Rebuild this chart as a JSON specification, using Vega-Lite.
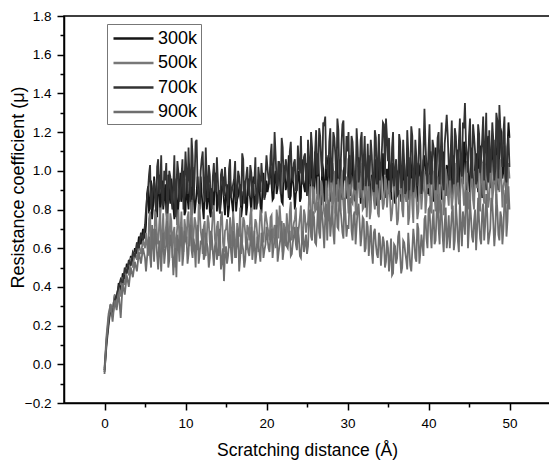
{
"$schema": "https://vega.github.io/schema/vega-lite/v6.json",
"width": 486,
"height": 387,
"autosize": {"type": "none"},
"padding": {"left": 64, "top": 16, "right": 0, "bottom": 60},
"background": "white",
"config": {
  "font": "Liberation Sans",
  "view": {"stroke": "#000", "strokeWidth": 1.5},
  "axis": {"grid": false, "domainColor": "#000", "domainWidth": 1.5, "tickColor": "#000", "tickWidth": 1.5, "labelColor": "#000", "titleColor": "#000", "titleFontWeight": "normal", "labelFontSize": 13.5, "labelFlush": false, "labelOverlap": false},
  "legend": {"strokeColor": "#777", "strokeWidth": 1}
},
"data": {"values": [
{"x":0,"300k":-0.03,"500k":-0.02,"700k":-0.04,"900k":-0.05},
{"x":0.25,"300k":0.12,"500k":0.15,"700k":0.10,"900k":0.13},
{"x":0.5,"300k":0.22,"500k":0.26,"700k":0.20,"900k":0.24},
{"x":0.75,"300k":0.30,"500k":0.31,"700k":0.29,"900k":0.31},
{"x":1,"300k":0.28,"500k":0.27,"700k":0.25,"900k":0.22},
{"x":1.25,"300k":0.35,"500k":0.36,"700k":0.33,"900k":0.33},
{"x":1.5,"300k":0.33,"500k":0.30,"700k":0.36,"900k":0.28},
{"x":1.75,"300k":0.42,"500k":0.40,"700k":0.40,"900k":0.37},
{"x":2,"300k":0.38,"500k":0.35,"700k":0.44,"900k":0.24},
{"x":2.25,"300k":0.47,"500k":0.45,"700k":0.42,"900k":0.42},
{"x":2.5,"300k":0.44,"500k":0.41,"700k":0.50,"900k":0.36},
{"x":2.75,"300k":0.52,"500k":0.50,"700k":0.47,"900k":0.46},
{"x":3,"300k":0.48,"500k":0.46,"700k":0.54,"900k":0.40},
{"x":3.25,"300k":0.56,"500k":0.55,"700k":0.51,"900k":0.50},
{"x":3.5,"300k":0.53,"500k":0.50,"700k":0.58,"900k":0.45},
{"x":3.75,"300k":0.60,"500k":0.58,"700k":0.56,"900k":0.53},
{"x":4,"300k":0.57,"500k":0.54,"700k":0.63,"900k":0.48},
{"x":4.25,"300k":0.66,"500k":0.62,"700k":0.60,"900k":0.58},
{"x":4.5,"300k":0.62,"500k":0.57,"700k":0.68,"900k":0.52},
{"x":4.75,"300k":0.70,"500k":0.64,"700k":0.64,"900k":0.60},
{"x":5,"300k":0.65,"500k":0.60,"700k":0.72,"900k":0.55},
{"x":5.25,"300k":0.88,"500k":0.62,"700k":0.86,"900k":0.55},
{"x":5.5,"300k":0.78,"500k":0.75,"700k":0.98,"900k":0.66},
{"x":5.75,"300k":0.95,"500k":0.58,"700k":0.80,"900k":0.50},
{"x":6,"300k":0.82,"500k":0.70,"700k":0.92,"900k":0.62},
{"x":6.25,"300k":0.90,"500k":0.80,"700k":0.84,"900k":0.70},
{"x":6.5,"300k":0.76,"500k":0.64,"700k":1.02,"900k":0.56},
{"x":6.75,"300k":0.98,"500k":0.72,"700k":0.88,"900k":0.64},
{"x":7,"300k":0.85,"500k":0.57,"700k":1.08,"900k":0.48},
{"x":7.25,"300k":0.80,"500k":0.78,"700k":0.82,"900k":0.68},
{"x":7.5,"300k":0.93,"500k":0.66,"700k":0.95,"900k":0.58},
{"x":7.75,"300k":0.74,"500k":0.83,"700k":0.78,"900k":0.74},
{"x":8,"300k":0.88,"500k":0.60,"700k":1.00,"900k":0.54},
{"x":8.25,"300k":0.96,"500k":0.74,"700k":0.86,"900k":0.63},
{"x":8.5,"300k":0.81,"500k":0.68,"700k":0.93,"900k":0.46},
{"x":8.75,"300k":0.87,"500k":0.50,"700k":0.76,"900k":0.60},
{"x":9,"300k":0.72,"500k":0.72,"700k":1.05,"900k":0.67},
{"x":9.25,"300k":0.92,"500k":0.63,"700k":0.84,"900k":0.53},
{"x":9.5,"300k":0.84,"500k":0.79,"700k":0.97,"900k":0.71},
{"x":9.75,"300k":1.00,"500k":0.58,"700k":0.80,"900k":0.57},
{"x":10,"300k":0.79,"500k":0.70,"700k":1.10,"900k":0.63},
{"x":10.25,"300k":0.86,"500k":0.76,"700k":0.88,"900k":0.52},
{"x":10.5,"300k":0.93,"500k":0.61,"700k":0.96,"900k":0.69},
{"x":10.75,"300k":0.77,"500k":0.85,"700k":1.17,"900k":0.59},
{"x":11,"300k":0.90,"500k":0.67,"700k":0.85,"900k":0.65},
{"x":11.25,"300k":0.83,"500k":0.73,"700k":1.15,"900k":0.50},
{"x":11.5,"300k":0.97,"500k":0.59,"700k":0.92,"900k":0.72},
{"x":11.75,"300k":0.80,"500k":0.80,"700k":0.83,"900k":0.57},
{"x":12,"300k":0.88,"500k":0.65,"700k":1.06,"900k":0.62},
{"x":12.25,"300k":0.75,"500k":0.71,"700k":0.90,"900k":0.54},
{"x":12.5,"300k":0.94,"500k":0.56,"700k":1.12,"900k":0.68},
{"x":12.75,"300k":0.85,"500k":0.77,"700k":0.86,"900k":0.60},
{"x":13,"300k":0.79,"500k":0.63,"700k":0.98,"900k":0.55},
{"x":13.25,"300k":0.91,"500k":0.69,"700k":0.80,"900k":0.66},
{"x":13.5,"300k":0.82,"500k":0.82,"700k":1.04,"900k":0.51},
{"x":13.75,"300k":0.99,"500k":0.60,"700k":0.89,"900k":0.63},
{"x":14,"300k":0.86,"500k":0.74,"700k":0.95,"900k":0.58},
{"x":14.25,"300k":0.78,"500k":0.66,"700k":0.78,"900k":0.70},
{"x":14.5,"300k":0.92,"500k":0.79,"700k":1.01,"900k":0.53},
{"x":14.75,"300k":0.84,"500k":0.58,"700k":0.87,"900k":0.43},
{"x":15,"300k":0.88,"500k":0.70,"700k":0.93,"900k":0.61},
{"x":15.25,"300k":0.76,"500k":0.64,"700k":0.82,"900k":0.56},
{"x":15.5,"300k":0.95,"500k":0.76,"700k":1.06,"900k":0.67},
{"x":15.75,"300k":0.83,"500k":0.61,"700k":0.90,"900k":0.52},
{"x":16,"300k":0.90,"500k":0.72,"700k":0.96,"900k":0.64},
{"x":16.25,"300k":0.79,"500k":0.55,"700k":0.84,"900k":0.59},
{"x":16.5,"300k":0.87,"500k":0.68,"700k":1.00,"900k":0.70},
{"x":16.75,"300k":0.93,"500k":0.81,"700k":0.88,"900k":0.55},
{"x":17,"300k":0.81,"500k":0.63,"700k":1.09,"900k":0.62},
{"x":17.25,"300k":0.89,"500k":0.74,"700k":0.83,"900k":0.50},
{"x":17.5,"300k":0.77,"500k":0.59,"700k":0.97,"900k":0.66},
{"x":17.75,"300k":0.96,"500k":0.70,"700k":0.91,"900k":0.58},
{"x":18,"300k":0.85,"500k":0.77,"700k":1.03,"900k":0.63},
{"x":18.25,"300k":0.91,"500k":0.62,"700k":0.86,"900k":0.54},
{"x":18.5,"300k":0.80,"500k":0.68,"700k":0.94,"900k":0.69},
{"x":18.75,"300k":0.88,"500k":0.73,"700k":0.80,"900k":0.57},
{"x":19,"300k":0.94,"500k":0.58,"700k":1.02,"900k":0.61},
{"x":19.25,"300k":0.82,"500k":0.80,"700k":0.89,"900k":0.53},
{"x":19.5,"300k":0.90,"500k":0.66,"700k":0.96,"900k":0.65},
{"x":19.75,"300k":0.86,"500k":0.71,"700k":0.85,"900k":0.59},
{"x":20,"300k":0.95,"500k":0.75,"700k":1.08,"900k":0.71},
{"x":20.25,"300k":0.92,"500k":0.68,"700k":0.96,"900k":0.60},
{"x":20.5,"300k":1.02,"500k":0.76,"700k":1.08,"900k":0.68},
{"x":20.75,"300k":0.85,"500k":0.62,"700k":0.90,"900k":0.55},
{"x":21,"300k":0.97,"500k":0.72,"700k":1.20,"900k":0.64},
{"x":21.25,"300k":0.88,"500k":0.80,"700k":0.94,"900k":0.72},
{"x":21.5,"300k":1.05,"500k":0.65,"700k":1.05,"900k":0.58},
{"x":21.75,"300k":0.90,"500k":0.74,"700k":0.88,"900k":0.66},
{"x":22,"300k":0.83,"500k":0.58,"700k":1.12,"900k":0.54},
{"x":22.25,"300k":0.99,"500k":0.70,"700k":0.97,"900k":0.70},
{"x":22.5,"300k":0.93,"500k":0.78,"700k":1.02,"900k":0.61},
{"x":22.75,"300k":1.08,"500k":0.63,"700k":0.86,"900k":0.67},
{"x":23,"300k":0.87,"500k":0.84,"700k":1.15,"900k":0.56},
{"x":23.25,"300k":0.95,"500k":0.69,"700k":0.95,"900k":0.63},
{"x":23.5,"300k":0.80,"500k":0.75,"700k":1.06,"900k":0.71},
{"x":23.75,"300k":0.91,"500k":0.60,"700k":0.90,"900k":0.59},
{"x":24,"300k":1.00,"500k":0.71,"700k":1.01,"900k":0.65},
{"x":24.25,"300k":0.86,"500k":0.82,"700k":1.18,"900k":0.55},
{"x":24.5,"300k":0.96,"500k":0.66,"700k":0.93,"900k":0.69},
{"x":24.75,"300k":0.89,"500k":0.77,"700k":1.09,"900k":0.62},
{"x":25,"300k":1.04,"500k":0.72,"700k":0.87,"900k":0.57},
{"x":25.25,"300k":0.84,"500k":0.86,"700k":1.04,"900k":0.74},
{"x":25.5,"300k":0.98,"500k":0.74,"700k":1.20,"900k":0.66},
{"x":25.75,"300k":0.92,"500k":0.92,"700k":0.92,"900k":0.79},
{"x":26,"300k":1.10,"500k":0.79,"700k":1.10,"900k":0.63},
{"x":26.25,"300k":0.88,"500k":0.88,"700k":0.98,"900k":0.72},
{"x":26.5,"300k":0.95,"500k":0.70,"700k":1.22,"900k":0.68},
{"x":26.75,"300k":0.82,"500k":0.95,"700k":1.05,"900k":0.82},
{"x":27,"300k":1.01,"500k":0.83,"700k":1.25,"900k":0.70},
{"x":27.25,"300k":0.94,"500k":0.76,"700k":1.28,"900k":0.76},
{"x":27.5,"300k":0.87,"500k":0.90,"700k":1.02,"900k":0.64},
{"x":27.75,"300k":1.06,"500k":0.81,"700k":1.15,"900k":0.85},
{"x":28,"300k":0.91,"500k":0.98,"700k":0.94,"900k":0.73},
{"x":28.25,"300k":0.97,"500k":0.85,"700k":1.20,"900k":0.68},
{"x":28.5,"300k":0.85,"500k":0.78,"700k":1.08,"900k":0.80},
{"x":28.75,"300k":1.03,"500k":0.93,"700k":1.27,"900k":0.71},
{"x":29,"300k":0.93,"500k":0.87,"700k":0.96,"900k":0.90},
{"x":29.25,"300k":0.88,"500k":1.00,"700k":1.13,"900k":0.75},
{"x":29.5,"300k":1.00,"500k":0.82,"700k":1.26,"900k":0.65},
{"x":29.75,"300k":0.95,"500k":0.91,"700k":0.99,"900k":0.78},
{"x":30,"300k":0.86,"500k":0.88,"700k":1.10,"900k":0.72},
{"x":30.25,"300k":1.08,"500k":0.96,"700k":0.93,"900k":0.84},
{"x":30.5,"300k":0.92,"500k":0.84,"700k":1.18,"900k":0.69},
{"x":30.75,"300k":0.99,"500k":0.90,"700k":1.04,"900k":0.77},
{"x":31,"300k":0.84,"500k":0.79,"700k":0.90,"900k":0.62},
{"x":31.25,"300k":0.96,"500k":1.02,"700k":1.12,"900k":0.80},
{"x":31.5,"300k":1.02,"500k":0.86,"700k":0.98,"900k":0.73},
{"x":31.75,"300k":0.89,"500k":0.93,"700k":1.20,"900k":0.67},
{"x":32,"300k":0.94,"500k":0.81,"700k":1.06,"900k":0.75},
{"x":32.25,"300k":0.81,"500k":0.97,"700k":0.92,"900k":0.60},
{"x":32.5,"300k":1.05,"500k":0.88,"700k":1.14,"900k":0.71},
{"x":32.75,"300k":0.91,"500k":0.75,"700k":1.00,"900k":0.65},
{"x":33,"300k":0.98,"500k":0.94,"700k":1.08,"900k":0.58},
{"x":33.25,"300k":0.87,"500k":0.85,"700k":0.89,"900k":0.68},
{"x":33.5,"300k":1.03,"500k":0.91,"700k":1.17,"900k":0.62},
{"x":33.75,"300k":0.93,"500k":0.78,"700k":1.03,"900k":0.55},
{"x":34,"300k":0.85,"500k":0.99,"700k":0.95,"900k":0.66},
{"x":34.25,"300k":1.00,"500k":0.87,"700k":1.11,"900k":0.59},
{"x":34.5,"300k":0.90,"500k":0.83,"700k":1.24,"900k":0.63},
{"x":34.75,"300k":0.96,"500k":0.95,"700k":1.27,"900k":0.53},
{"x":35,"300k":0.88,"500k":0.89,"700k":1.05,"900k":0.60},
{"x":35.25,"300k":0.94,"500k":0.86,"700k":1.00,"900k":0.55},
{"x":35.5,"300k":1.02,"500k":0.78,"700k":1.12,"900k":0.46},
{"x":35.75,"300k":0.88,"500k":0.92,"700k":0.92,"900k":0.62},
{"x":36,"300k":0.98,"500k":0.83,"700k":1.06,"900k":0.52},
{"x":36.25,"300k":0.91,"500k":0.75,"700k":0.88,"900k":0.66},
{"x":36.5,"300k":1.05,"500k":0.88,"700k":1.15,"900k":0.57},
{"x":36.75,"300k":0.86,"500k":0.80,"700k":0.97,"900k":0.50},
{"x":37,"300k":0.96,"500k":0.95,"700k":1.04,"900k":0.63},
{"x":37.25,"300k":1.00,"500k":0.84,"700k":0.90,"900k":0.54},
{"x":37.5,"300k":0.89,"500k":0.72,"700k":1.10,"900k":0.68},
{"x":37.75,"300k":1.07,"500k":0.90,"700k":0.98,"900k":0.51},
{"x":38,"300k":0.93,"500k":0.82,"700k":1.18,"900k":0.59},
{"x":38.25,"300k":0.99,"500k":0.98,"700k":0.93,"900k":0.64},
{"x":38.5,"300k":0.87,"500k":0.86,"700k":1.07,"900k":0.53},
{"x":38.75,"300k":1.04,"500k":0.79,"700k":1.01,"900k":0.70},
{"x":39,"300k":0.95,"500k":0.93,"700k":1.13,"900k":0.58},
{"x":39.25,"300k":0.90,"500k":0.88,"700k":0.95,"900k":0.62},
{"x":39.5,"300k":1.08,"500k":1.00,"700k":1.32,"900k":0.75},
{"x":39.75,"300k":0.97,"500k":0.85,"700k":1.02,"900k":0.65},
{"x":40,"300k":0.92,"500k":0.91,"700k":1.10,"900k":0.80},
{"x":40.25,"300k":1.10,"500k":0.80,"700k":0.94,"900k":0.68},
{"x":40.5,"300k":0.94,"500k":0.96,"700k":1.16,"900k":0.74},
{"x":40.75,"300k":1.01,"500k":0.87,"700k":1.05,"900k":0.62},
{"x":41,"300k":0.86,"500k":0.93,"700k":0.99,"900k":0.78},
{"x":41.25,"300k":0.98,"500k":0.78,"700k":1.20,"900k":0.70},
{"x":41.5,"300k":1.06,"500k":1.02,"700k":1.08,"900k":0.85},
{"x":41.75,"300k":0.91,"500k":0.89,"700k":0.96,"900k":0.66},
{"x":42,"300k":0.96,"500k":0.84,"700k":1.14,"900k":0.73},
{"x":42.25,"300k":1.03,"500k":0.97,"700k":1.29,"900k":0.60},
{"x":42.5,"300k":0.88,"500k":0.82,"700k":1.03,"900k":0.77},
{"x":42.75,"300k":1.09,"500k":0.91,"700k":1.11,"900k":0.69},
{"x":43,"300k":0.95,"500k":0.86,"700k":0.97,"900k":0.82},
{"x":43.25,"300k":1.00,"500k":1.04,"700k":1.22,"900k":0.64},
{"x":43.5,"300k":0.90,"500k":0.90,"700k":1.06,"900k":0.75},
{"x":43.75,"300k":1.05,"500k":0.83,"700k":1.15,"900k":0.58},
{"x":44,"300k":0.97,"500k":0.98,"700k":1.00,"900k":0.72},
{"x":44.25,"300k":0.93,"500k":0.92,"700k":1.25,"900k":0.79},
{"x":44.5,"300k":1.12,"500k":0.87,"700k":1.35,"900k":0.67},
{"x":44.75,"300k":0.99,"500k":1.05,"700k":1.08,"900k":0.88},
{"x":45,"300k":0.94,"500k":0.89,"700k":1.18,"900k":0.71},
{"x":45.25,"300k":1.06,"500k":0.94,"700k":1.02,"900k":0.76},
{"x":45.5,"300k":0.91,"500k":0.85,"700k":1.24,"900k":0.63},
{"x":45.75,"300k":1.02,"500k":1.00,"700k":1.10,"900k":0.80},
{"x":46,"300k":0.96,"500k":0.91,"700k":0.95,"900k":0.70},
{"x":46.25,"300k":1.10,"500k":0.82,"700k":1.19,"900k":0.74},
{"x":46.5,"300k":0.92,"500k":0.97,"700k":1.06,"900k":0.62},
{"x":46.75,"300k":1.04,"500k":0.88,"700k":1.28,"900k":0.83},
{"x":47,"300k":0.98,"500k":1.03,"700k":1.12,"900k":0.72},
{"x":47.25,"300k":1.14,"500k":0.93,"700k":0.98,"900k":0.78},
{"x":47.5,"300k":0.95,"500k":0.86,"700k":1.21,"900k":0.66},
{"x":47.75,"300k":1.08,"500k":1.06,"700k":1.07,"900k":0.86},
{"x":48,"300k":1.00,"500k":0.90,"700k":1.16,"900k":0.73},
{"x":48.25,"300k":1.16,"500k":0.95,"700k":1.01,"900k":0.69},
{"x":48.5,"300k":0.96,"500k":1.08,"700k":1.26,"900k":0.80},
{"x":48.75,"300k":1.05,"500k":0.89,"700k":1.34,"900k":0.64},
{"x":49,"300k":1.20,"500k":0.97,"700k":1.09,"900k":0.76},
{"x":49.25,"300k":1.00,"500k":0.92,"700k":1.20,"900k":0.70},
{"x":49.5,"300k":0.93,"500k":1.02,"700k":0.97,"900k":0.90},
{"x":49.75,"300k":1.12,"500k":0.86,"700k":1.12,"900k":0.74},
{"x":50,"300k":1.17,"500k":0.96,"700k":1.02,"900k":0.80},
{"x":5.125,"300k":0.72,"500k":0.68,"700k":0.80,"900k":0.48},
{"x":5.375,"300k":0.92,"500k":0.56,"700k":0.90,"900k":0.60},
{"x":5.625,"300k":0.84,"500k":0.79,"700k":1.03,"900k":0.56},
{"x":5.875,"300k":0.75,"500k":0.64,"700k":0.86,"900k":0.72},
{"x":6.125,"300k":0.97,"500k":0.59,"700k":0.95,"900k":0.53},
{"x":6.375,"300k":0.83,"500k":0.77,"700k":0.79,"900k":0.65},
{"x":6.625,"300k":0.91,"500k":0.62,"700k":1.06,"900k":0.49},
{"x":6.875,"300k":0.78,"500k":0.81,"700k":0.91,"900k":0.58},
{"x":7.125,"300k":0.95,"500k":0.66,"700k":0.84,"900k":0.61},
{"x":7.375,"300k":0.86,"500k":0.60,"700k":1.00,"900k":0.52},
{"x":7.625,"300k":0.79,"500k":0.73,"700k":1.04,"900k":0.62},
{"x":7.875,"300k":0.98,"500k":0.66,"700k":0.84,"900k":0.50},
{"x":8.125,"300k":0.83,"500k":0.78,"700k":0.97,"900k":0.67},
{"x":8.375,"300k":0.90,"500k":0.55,"700k":0.80,"900k":0.59},
{"x":8.625,"300k":0.75,"500k":0.71,"700k":1.08,"900k":0.55},
{"x":8.875,"300k":0.96,"500k":0.65,"700k":0.90,"900k":0.45},
{"x":9.125,"300k":0.82,"500k":0.80,"700k":0.99,"900k":0.63},
{"x":9.375,"300k":0.99,"500k":0.68,"700k":0.86,"900k":0.66},
{"x":9.625,"300k":0.88,"500k":0.61,"700k":1.06,"900k":0.51},
{"x":9.875,"300k":0.77,"500k":0.75,"700k":0.93,"900k":0.69},
{"x":10.125,"300k":0.96,"500k":0.62,"700k":0.99,"900k":0.66},
{"x":10.375,"300k":0.80,"500k":0.79,"700k":1.12,"900k":0.57},
{"x":10.625,"300k":0.91,"500k":0.70,"700k":0.84,"900k":0.72},
{"x":10.875,"300k":1.02,"500k":0.58,"700k":1.08,"900k":0.55},
{"x":11.125,"300k":0.78,"500k":0.76,"700k":0.96,"900k":0.61},
{"x":11.375,"300k":0.89,"500k":0.64,"700k":1.16,"900k":0.68},
{"x":11.625,"300k":0.84,"500k":0.83,"700k":0.87,"900k":0.52},
{"x":11.875,"300k":0.97,"500k":0.69,"700k":1.00,"900k":0.64},
{"x":12.125,"300k":0.81,"500k":0.57,"700k":1.10,"900k":0.70},
{"x":12.375,"300k":0.92,"500k":0.74,"700k":0.84,"900k":0.56},
{"x":12.625,"300k":0.80,"500k":0.66,"700k":0.95,"900k":0.63},
{"x":12.875,"300k":0.93,"500k":0.73,"700k":1.03,"900k":0.50},
{"x":13.125,"300k":0.76,"500k":0.59,"700k":0.84,"900k":0.69},
{"x":13.375,"300k":0.88,"500k":0.78,"700k":0.97,"900k":0.58},
{"x":13.625,"300k":0.95,"500k":0.65,"700k":0.91,"900k":0.61},
{"x":13.875,"300k":0.79,"500k":0.71,"700k":1.07,"900k":0.54},
{"x":14.125,"300k":0.90,"500k":0.56,"700k":0.83,"900k":0.66},
{"x":14.375,"300k":0.84,"500k":0.76,"700k":0.98,"900k":0.49},
{"x":14.625,"300k":0.97,"500k":0.63,"700k":0.92,"900k":0.60},
{"x":14.875,"300k":0.77,"500k":0.69,"700k":1.02,"900k":0.57},
{"x":15.125,"300k":0.93,"500k":0.75,"700k":0.89,"900k":0.52},
{"x":15.375,"300k":0.81,"500k":0.60,"700k":1.01,"900k":0.63},
{"x":15.625,"300k":0.88,"500k":0.69,"700k":0.86,"900k":0.58},
{"x":15.875,"300k":0.78,"500k":0.79,"700k":0.93,"900k":0.69},
{"x":16.125,"300k":0.96,"500k":0.62,"700k":1.05,"900k":0.55},
{"x":16.375,"300k":0.85,"500k":0.73,"700k":0.88,"900k":0.62},
{"x":16.625,"300k":0.91,"500k":0.66,"700k":0.97,"900k":0.48},
{"x":16.875,"300k":0.76,"500k":0.57,"700k":0.82,"900k":0.67},
{"x":17.125,"300k":0.89,"500k":0.76,"700k":1.06,"900k":0.59},
{"x":17.375,"300k":0.95,"500k":0.68,"700k":0.92,"900k":0.54},
{"x":17.625,"300k":0.82,"500k":0.72,"700k":1.02,"900k":0.64},
{"x":17.875,"300k":0.90,"500k":0.64,"700k":0.87,"900k":0.56},
{"x":18.125,"300k":0.79,"500k":0.81,"700k":0.99,"900k":0.71},
{"x":18.375,"300k":0.97,"500k":0.60,"700k":0.93,"900k":0.60},
{"x":18.625,"300k":0.86,"500k":0.75,"700k":1.07,"900k":0.52},
{"x":18.875,"300k":0.83,"500k":0.66,"700k":0.84,"900k":0.66},
{"x":19.125,"300k":0.93,"500k":0.70,"700k":0.96,"900k":0.58},
{"x":19.375,"300k":0.78,"500k":0.77,"700k":1.04,"900k":0.68},
{"x":19.625,"300k":0.99,"500k":0.63,"700k":0.90,"900k":0.55},
{"x":19.875,"300k":0.88,"500k":0.79,"700k":0.98,"900k":0.62},
{"x":20.125,"300k":0.89,"500k":0.71,"700k":1.01,"900k":0.65},
{"x":20.375,"300k":0.98,"500k":0.64,"700k":0.93,"900k":0.58},
{"x":20.625,"300k":0.93,"500k":0.77,"700k":1.14,"900k":0.70},
{"x":20.875,"300k":0.86,"500k":0.69,"700k":0.99,"900k":0.61},
{"x":21.125,"300k":1.00,"500k":0.60,"700k":1.08,"900k":0.67},
{"x":21.375,"300k":0.91,"500k":0.75,"700k":0.92,"900k":0.53},
{"x":21.625,"300k":0.97,"500k":0.82,"700k":1.03,"900k":0.62},
{"x":21.875,"300k":0.84,"500k":0.66,"700k":1.17,"900k":0.74},
{"x":22.125,"300k":1.03,"500k":0.73,"700k":0.94,"900k":0.59},
{"x":22.375,"300k":0.90,"500k":0.61,"700k":1.06,"900k":0.66},
{"x":22.625,"300k":0.97,"500k":0.70,"700k":0.93,"900k":0.60},
{"x":22.875,"300k":0.85,"500k":0.79,"700k":1.10,"900k":0.69},
{"x":23.125,"300k":1.02,"500k":0.64,"700k":0.97,"900k":0.57},
{"x":23.375,"300k":0.91,"500k":0.73,"700k":1.04,"900k":0.66},
{"x":23.625,"300k":0.88,"500k":0.81,"700k":0.90,"900k":0.62},
{"x":23.875,"300k":0.98,"500k":0.67,"700k":1.13,"900k":0.71},
{"x":24.125,"300k":0.84,"500k":0.76,"700k":1.00,"900k":0.56},
{"x":24.375,"300k":1.06,"500k":0.62,"700k":0.95,"900k":0.64},
{"x":24.625,"300k":0.92,"500k":0.80,"700k":1.07,"900k":0.58},
{"x":24.875,"300k":0.99,"500k":0.68,"700k":0.98,"900k":0.67},
{"x":25.125,"300k":1.02,"500k":0.74,"700k":1.16,"900k":0.61},
{"x":25.375,"300k":0.85,"500k":0.92,"700k":0.93,"900k":0.80},
{"x":25.625,"300k":1.06,"500k":0.69,"700k":1.12,"900k":0.64},
{"x":25.875,"300k":0.83,"500k":0.90,"700k":0.95,"900k":0.76},
{"x":26.125,"300k":1.00,"500k":0.80,"700k":1.21,"900k":0.62},
{"x":26.375,"300k":1.09,"500k":0.97,"700k":0.99,"900k":0.84},
{"x":26.625,"300k":0.86,"500k":0.73,"700k":1.18,"900k":0.65},
{"x":26.875,"300k":1.04,"500k":0.92,"700k":0.97,"900k":0.78},
{"x":27.125,"300k":0.84,"500k":0.78,"700k":1.24,"900k":0.60},
{"x":27.375,"300k":1.07,"500k":0.95,"700k":1.01,"900k":0.83},
{"x":27.625,"300k":1.08,"500k":0.74,"700k":0.97,"900k":0.79},
{"x":27.875,"300k":0.84,"500k":0.94,"700k":1.22,"900k":0.66},
{"x":28.125,"300k":1.04,"500k":0.77,"700k":0.99,"900k":0.82},
{"x":28.375,"300k":0.86,"500k":1.00,"700k":1.17,"900k":0.62},
{"x":28.625,"300k":1.10,"500k":0.82,"700k":0.93,"900k":0.86},
{"x":28.875,"300k":0.84,"500k":0.96,"700k":1.21,"900k":0.70},
{"x":29.125,"300k":1.06,"500k":0.79,"700k":1.00,"900k":0.81},
{"x":29.375,"300k":0.85,"500k":0.91,"700k":1.24,"900k":0.68},
{"x":29.625,"300k":1.02,"500k":0.75,"700k":0.95,"900k":0.86},
{"x":29.875,"300k":0.86,"500k":0.97,"700k":1.18,"900k":0.66},
{"x":30.125,"300k":1.06,"500k":0.78,"700k":1.20,"900k":0.70},
{"x":30.375,"300k":0.87,"500k":0.98,"700k":0.95,"900k":0.86},
{"x":30.625,"300k":1.10,"500k":0.83,"700k":1.15,"900k":0.64},
{"x":30.875,"300k":0.85,"500k":1.00,"700k":0.91,"900k":0.79},
{"x":31.125,"300k":0.93,"500k":0.77,"700k":1.22,"900k":0.71},
{"x":31.375,"300k":1.07,"500k":0.94,"700k":0.94,"900k":0.83},
{"x":31.625,"300k":0.83,"500k":0.99,"700k":1.16,"900k":0.61},
{"x":31.875,"300k":1.04,"500k":0.80,"700k":0.90,"900k":0.76},
{"x":32.125,"300k":0.88,"500k":0.92,"700k":1.18,"900k":0.58},
{"x":32.375,"300k":0.99,"500k":0.76,"700k":0.97,"900k":0.74},
{"x":32.625,"300k":1.08,"500k":0.96,"700k":0.92,"900k":0.56},
{"x":32.875,"300k":0.84,"500k":0.79,"700k":1.16,"900k":0.72},
{"x":33.125,"300k":0.96,"500k":0.97,"700k":0.91,"900k":0.52},
{"x":33.375,"300k":1.06,"500k":0.80,"700k":1.21,"900k":0.70},
{"x":33.625,"300k":0.82,"500k":0.93,"700k":0.93,"900k":0.57},
{"x":33.875,"300k":1.04,"500k":0.76,"700k":1.19,"900k":0.68},
{"x":34.125,"300k":0.87,"500k":1.01,"700k":1.00,"900k":0.51},
{"x":34.375,"300k":1.09,"500k":0.80,"700k":1.25,"900k":0.66},
{"x":34.625,"300k":0.86,"500k":0.97,"700k":0.98,"900k":0.50},
{"x":34.875,"300k":1.01,"500k":0.81,"700k":1.17,"900k":0.64},
{"x":35.125,"300k":1.06,"500k":0.95,"700k":1.17,"900k":0.48},
{"x":35.375,"300k":0.85,"500k":0.74,"700k":0.89,"900k":0.65},
{"x":35.625,"300k":1.04,"500k":0.86,"700k":1.20,"900k":0.47},
{"x":35.875,"300k":0.83,"500k":0.97,"700k":0.99,"900k":0.61},
{"x":36.125,"300k":0.99,"500k":0.72,"700k":0.87,"900k":0.55},
{"x":36.375,"300k":1.08,"500k":0.90,"700k":1.19,"900k":0.69},
{"x":36.625,"300k":0.84,"500k":0.99,"700k":0.91,"900k":0.47},
{"x":36.875,"300k":1.03,"500k":0.76,"700k":1.16,"900k":0.64},
{"x":37.125,"300k":0.87,"500k":0.88,"700k":0.88,"900k":0.58},
{"x":37.375,"300k":1.06,"500k":0.97,"700k":1.21,"900k":0.49},
{"x":37.625,"300k":0.85,"500k":0.76,"700k":0.90,"900k":0.60},
{"x":37.875,"300k":1.02,"500k":0.96,"700k":1.23,"900k":0.48},
{"x":38.125,"300k":0.86,"500k":0.73,"700k":0.89,"900k":0.70},
{"x":38.375,"300k":1.08,"500k":0.92,"700k":1.16,"900k":0.55},
{"x":38.625,"300k":0.84,"500k":0.75,"700k":0.92,"900k":0.73},
{"x":38.875,"300k":1.02,"500k":0.97,"700k":1.22,"900k":0.52},
{"x":39.125,"300k":0.86,"500k":0.80,"700k":0.88,"900k":0.67},
{"x":39.375,"300k":1.05,"500k":0.91,"700k":1.08,"900k":0.56},
{"x":39.625,"300k":1.00,"500k":0.78,"700k":1.14,"900k":0.77},
{"x":39.875,"300k":0.88,"500k":0.99,"700k":0.93,"900k":0.60},
{"x":40.125,"300k":0.87,"500k":0.98,"700k":1.24,"900k":0.81},
{"x":40.375,"300k":1.05,"500k":0.78,"700k":0.93,"900k":0.60},
{"x":40.625,"300k":0.84,"500k":1.00,"700k":1.12,"900k":0.80},
{"x":40.875,"300k":1.12,"500k":0.79,"700k":0.90,"900k":0.64},
{"x":41.125,"300k":0.89,"500k":0.97,"700k":1.17,"900k":0.87},
{"x":41.375,"300k":1.03,"500k":0.82,"700k":0.93,"900k":0.62},
{"x":41.625,"300k":0.85,"500k":0.94,"700k":1.25,"900k":0.79},
{"x":41.875,"300k":1.10,"500k":0.77,"700k":0.90,"900k":0.58},
{"x":42.125,"300k":0.87,"500k":1.01,"700k":1.21,"900k":0.81},
{"x":42.375,"300k":1.01,"500k":0.88,"700k":1.18,"900k":0.67},
{"x":42.625,"300k":0.97,"500k":1.00,"700k":0.95,"900k":0.60},
{"x":42.875,"300k":0.86,"500k":0.80,"700k":1.26,"900k":0.78},
{"x":43.125,"300k":1.08,"500k":0.95,"700k":0.93,"900k":0.59},
{"x":43.375,"300k":0.85,"500k":0.78,"700k":1.18,"900k":0.83},
{"x":43.625,"300k":1.11,"500k":0.96,"700k":0.94,"900k":0.64},
{"x":43.875,"300k":0.88,"500k":0.83,"700k":1.27,"900k":0.85},
{"x":44.125,"300k":1.00,"500k":1.06,"700k":0.97,"900k":0.61},
{"x":44.375,"300k":1.15,"500k":0.82,"700k":1.22,"900k":0.74},
{"x":44.625,"300k":0.89,"500k":0.99,"700k":1.14,"900k":0.90},
{"x":44.875,"300k":1.06,"500k":0.80,"700k":0.99,"900k":0.60},
{"x":45.125,"300k":0.88,"500k":0.82,"700k":1.27,"900k":0.85},
{"x":45.375,"300k":1.12,"500k":1.03,"700k":0.96,"900k":0.66},
{"x":45.625,"300k":0.87,"500k":0.80,"700k":1.18,"900k":0.74},
{"x":45.875,"300k":1.09,"500k":0.95,"700k":0.93,"900k":0.59},
{"x":46.125,"300k":0.89,"500k":1.01,"700k":1.24,"900k":0.86},
{"x":46.375,"300k":1.13,"500k":0.79,"700k":0.99,"900k":0.65},
{"x":46.625,"300k":0.86,"500k":1.04,"700k":1.16,"900k":0.79},
{"x":46.875,"300k":1.07,"500k":0.83,"700k":0.95,"900k":0.64},
{"x":47.125,"300k":0.90,"500k":0.98,"700k":1.30,"900k":0.88},
{"x":47.375,"300k":1.18,"500k":0.81,"700k":0.94,"900k":0.62},
{"x":47.625,"300k":0.91,"500k":0.99,"700k":0.99,"900k":0.70},
{"x":47.875,"300k":1.17,"500k":0.84,"700k":1.25,"900k":0.84},
{"x":48.125,"300k":0.93,"500k":1.02,"700k":0.95,"900k":0.61},
{"x":48.375,"300k":1.10,"500k":0.83,"700k":1.30,"900k":0.88},
{"x":48.625,"300k":0.90,"500k":0.99,"700k":0.96,"900k":0.67},
{"x":48.875,"300k":1.22,"500k":1.06,"700k":1.22,"900k":0.79},
{"x":49.125,"300k":0.96,"500k":0.81,"700k":1.02,"900k":0.62},
{"x":49.375,"300k":1.13,"500k":0.95,"700k":1.28,"900k":0.85},
{"x":49.625,"300k":0.88,"500k":0.83,"700k":0.94,"900k":0.66},
{"x":49.875,"300k":1.25,"500k":1.04,"700k":1.18,"900k":0.92}
]},
"transform": [{"fold": ["300k", "500k", "700k", "900k"], "as": ["series", "mu"]}],
"resolve": {"scale": {"x": "independent", "y": "independent"}, "axis": {"x": "independent", "y": "independent"}},
"layer": [
  {
    "mark": {"type": "line", "strokeWidth": 1.8, "clip": true},
    "encoding": {
      "x": {"field": "x", "type": "quantitative",
        "scale": {"domain": [-5, 55], "nice": false, "zero": false},
        "axis": {"orient": "bottom", "values": [0,10,20,30,40,50], "tickSize": 7,
          "labelPadding": 6,
          "title": "Scratching distance (Å)", "titleFontSize": 17.5, "titleY": 47, "titleBaseline": "middle"}},
      "y": {"field": "mu", "type": "quantitative",
        "scale": {"domain": [-0.2, 1.8], "nice": false, "zero": false},
        "axis": {"orient": "left", "values": [-0.2,0,0.2,0.4,0.6,0.8,1.0,1.2,1.4,1.6,1.8], "format": ".1f",
          "tickSize": 7, "labelPadding": 6,
          "title": "Resistance coefficient (μ)", "titleFontSize": 18,
          "titleX": -46, "titleY": 171, "titleBaseline": "middle"}},
      "color": {"field": "series", "type": "nominal",
        "scale": {"domain": ["300k", "500k", "700k", "900k"], "range": ["#151515", "#787878", "#333333", "#6e6e6e"]},
        "legend": {"orient": "none", "legendX": 43, "legendY": 8, "title": null,
          "symbolType": "M-2,0H2", "symbolSize": 400, "symbolStrokeWidth": 2.5, "symbolOffset": 12,
          "labelFontSize": 18, "labelOffset": 13, "labelColor": "#000", "rowPadding": 3.5,
          "strokeColor": "#777", "padding": 3}}
    }
  },
  {
    "mark": {"type": "line", "opacity": 0},
    "encoding": {
      "x": {"field": "x", "type": "quantitative",
        "scale": {"domain": [-5, 55], "nice": false, "zero": false},
        "axis": {"orient": "bottom", "values": [5,15,25,35,45], "labels": false, "domain": false, "title": null, "tickSize": 4}},
      "y": {"field": "mu", "type": "quantitative",
        "scale": {"domain": [-0.2, 1.8], "nice": false, "zero": false},
        "axis": {"orient": "left", "values": [-0.1,0.1,0.3,0.5,0.7,0.9,1.1,1.3,1.5,1.7], "labels": false, "domain": false, "title": null, "tickSize": 4}}
    }
  }
]
}
